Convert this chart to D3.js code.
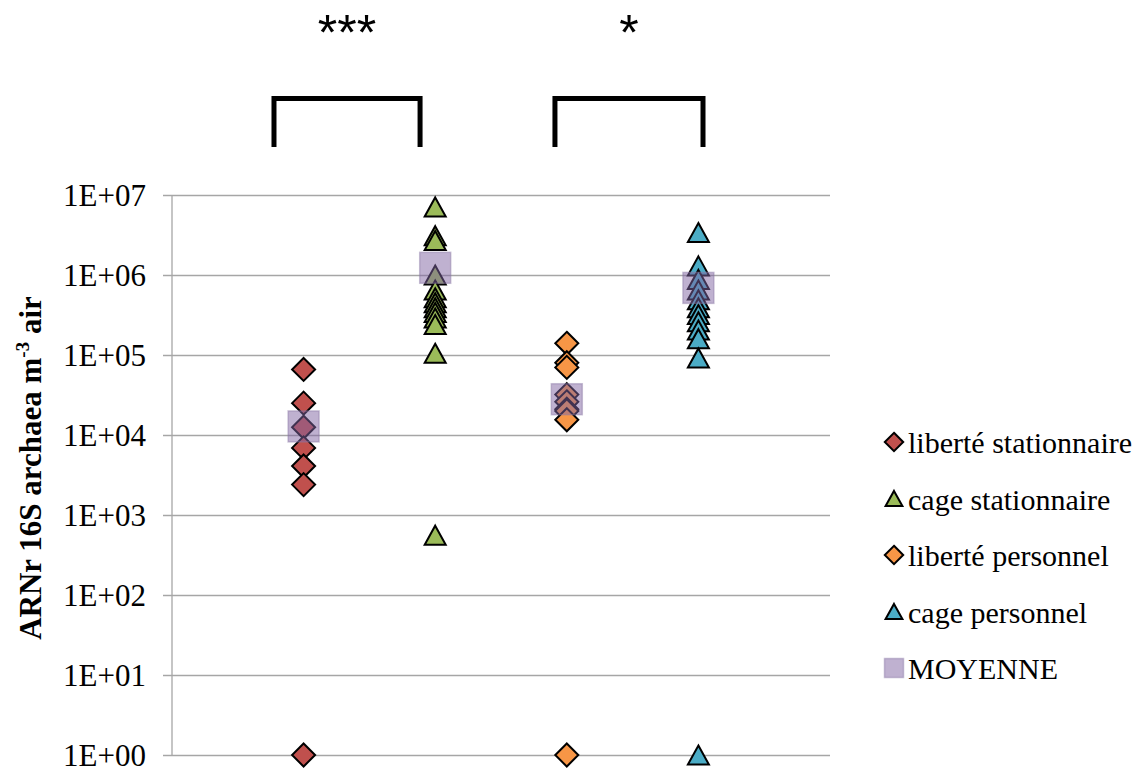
<!DOCTYPE html>
<html>
<head>
<meta charset="utf-8">
<script src="https://cdn.jsdelivr.net/npm/d3@7"></script>
<style>
  html, body { margin: 0; padding: 0; background: #ffffff; }
  svg { display: block; }
</style>
</head>
<body>
<svg id="chart" width="1145" height="771"></svg>
<script>
// Group labels (x positions 1..4)
const categories = ["liberté stationnaire", "cage stationnaire", "liberté personnel", "cage personnel"];

// Individual measurements, copies of 16S rRNA archaea per m³ of air
const liberteStationnaire = [66000, 25000, 12500, 6900, 4100, 2400, 1];
const cageStationnaire = [7100000, 3100000, 2700000, 1000000, 650000, 520000, 450000, 390000, 340000, 290000, 240000, 105000, 560];
const libertePersonnel = [140000, 80000, 70000, 32000, 26000, 21000, 20000, 15500, 1];
const cagePersonnel = [3400000, 1300000, 880000, 650000, 490000, 390000, 320000, 260000, 205000, 160000, 92000, 1];

// Group means (MOYENNE)
const moyenne = [12800, 1230000, 28000, 690000];

// Axis ticks
const yTickValues = [1, 10, 100, 1000, 10000, 100000, 1000000, 10000000];
const yTickLabels = ["1E+00", "1E+01", "1E+02", "1E+03", "1E+04", "1E+05", "1E+06", "1E+07"];

// Significance brackets: [from, to, label]
const brackets = [[0.775, 1.885, "***"], [2.91, 4.035, "*"]];

const series = [
  { name: categories[0], values: liberteStationnaire, pos: 1, shape: "diamond", color: "#C0504D" },
  { name: categories[1], values: cageStationnaire, pos: 2, shape: "triangle", color: "#9BBB59" },
  { name: categories[2], values: libertePersonnel, pos: 3, shape: "diamond", color: "#F79646" },
  { name: categories[3], values: cagePersonnel, pos: 4, shape: "triangle", color: "#4BACC6" }
];

const svg = d3.select("#chart");
const plot = { left: 172, right: 830, top: 195, bottom: 755 };

const x = d3.scaleLinear().domain([0, 5]).range([plot.left, plot.right]);
const y = d3.scaleLog().domain([1, 1e7]).range([plot.bottom, plot.top]);

const serif = "'Liberation Serif', 'Times New Roman', Times, serif";
const sans = "'Liberation Sans', Arial, Helvetica, sans-serif";

function diamondPath(r) {
  return `M0,${-r}L${r},0L0,${r}L${-r},0Z`;
}
function trianglePath(w, h) {
  return `M0,${-h / 2}L${w / 2},${h / 2}L${-w / 2},${h / 2}Z`;
}
function shapePath(shape, scale) {
  return shape === "diamond" ? diamondPath(11.5 * scale) : trianglePath(21 * scale, 19 * scale);
}

// Horizontal gridlines with outward tick marks
const yAxis = d3.axisLeft(y)
  .tickValues(yTickValues)
  .tickSize(-(plot.right - plot.left))
  .tickFormat("");
const gAxis = svg.append("g")
  .attr("transform", `translate(${plot.left},0)`)
  .call(yAxis);
gAxis.select(".domain").remove();
gAxis.selectAll(".tick line")
  .attr("x1", -9)
  .attr("stroke", "#a6a6a6")
  .attr("stroke-width", 1.3);

// Vertical axis line
svg.append("line")
  .attr("x1", plot.left).attr("x2", plot.left)
  .attr("y1", y(1e7)).attr("y2", y(1))
  .attr("stroke", "#a6a6a6")
  .attr("stroke-width", 1.3);

// Tick labels
svg.append("g").selectAll("text")
  .data(yTickValues)
  .join("text")
  .attr("x", 146)
  .attr("y", d => y(d))
  .attr("dy", "0.35em")
  .attr("text-anchor", "end")
  .attr("font-family", serif)
  .attr("font-size", 31)
  .attr("fill", "#000")
  .text((d, i) => yTickLabels[i]);

// Axis title
const title = svg.append("text")
  .attr("transform", `translate(41,468) rotate(-90)`)
  .attr("text-anchor", "middle")
  .attr("font-family", serif)
  .attr("font-size", 31)
  .attr("font-weight", "bold")
  .attr("fill", "#000");
title.append("tspan").text("ARNr 16S archaea m");
title.append("tspan").attr("font-size", 19).attr("dy", -12).text("-3");
title.append("tspan").attr("dy", 12).text(" air");

// Data points
const gPoints = svg.append("g");
series.forEach(s => {
  gPoints.append("g").selectAll("path")
    .data(s.values)
    .join("path")
    .attr("transform", d => `translate(${x(s.pos)},${y(d)})`)
    .attr("d", shapePath(s.shape, 1))
    .attr("fill", s.color)
    .attr("stroke", "#000")
    .attr("stroke-width", 2)
    .attr("stroke-linejoin", "miter");
});

// Means, drawn translucent over the points
const meanSide = 31;
svg.append("g").selectAll("rect")
  .data(moyenne)
  .join("rect")
  .attr("x", (d, i) => x(i + 1) - meanSide / 2)
  .attr("y", d => y(d) - meanSide / 2)
  .attr("width", meanSide)
  .attr("height", meanSide)
  .attr("fill", "#8064A2")
  .attr("fill-opacity", 0.5)
  .attr("stroke", "#8c7aa6")
  .attr("stroke-opacity", 0.45)
  .attr("stroke-width", 1.5);

// Significance brackets
const gBr = svg.append("g");
brackets.forEach(([a, b, label]) => {
  gBr.append("path")
    .attr("d", `M${x(a)},147V98.5H${x(b)}V147`)
    .attr("fill", "none")
    .attr("stroke", "#000")
    .attr("stroke-width", 5);
  gBr.append("text")
    .attr("x", (x(a) + x(b)) / 2)
    .attr("y", 50)
    .attr("text-anchor", "middle")
    .attr("font-family", sans)
    .attr("font-size", 50)
    .attr("fill", "#000")
    .text(label);
});

// Legend
const legendItems = series.map(s => ({ name: s.name, shape: s.shape, color: s.color }))
  .concat([{ name: "MOYENNE", shape: "square", color: "#8064A2" }]);
const legend = svg.append("g").attr("transform", "translate(894,0)");
legendItems.forEach((d, i) => {
  const baseline = 453 + i * 56.5;
  const cy = baseline - 11;
  if (d.shape === "square") {
    legend.append("rect")
      .attr("x", -9.5).attr("y", cy - 9.5)
      .attr("width", 19).attr("height", 19)
      .attr("fill", d.color)
      .attr("fill-opacity", 0.5)
      .attr("stroke", "#8c7aa6")
      .attr("stroke-opacity", 0.45)
      .attr("stroke-width", 1.5);
  } else {
    legend.append("path")
      .attr("transform", `translate(0,${cy})`)
      .attr("d", shapePath(d.shape, 0.8))
      .attr("fill", d.color)
      .attr("stroke", "#000")
      .attr("stroke-width", 2);
  }
  legend.append("text")
    .attr("x", 14)
    .attr("y", baseline)
    .attr("font-family", serif)
    .attr("font-size", 30)
    .attr("fill", "#000")
    .text(d.name);
});
</script>
</body>
</html>
